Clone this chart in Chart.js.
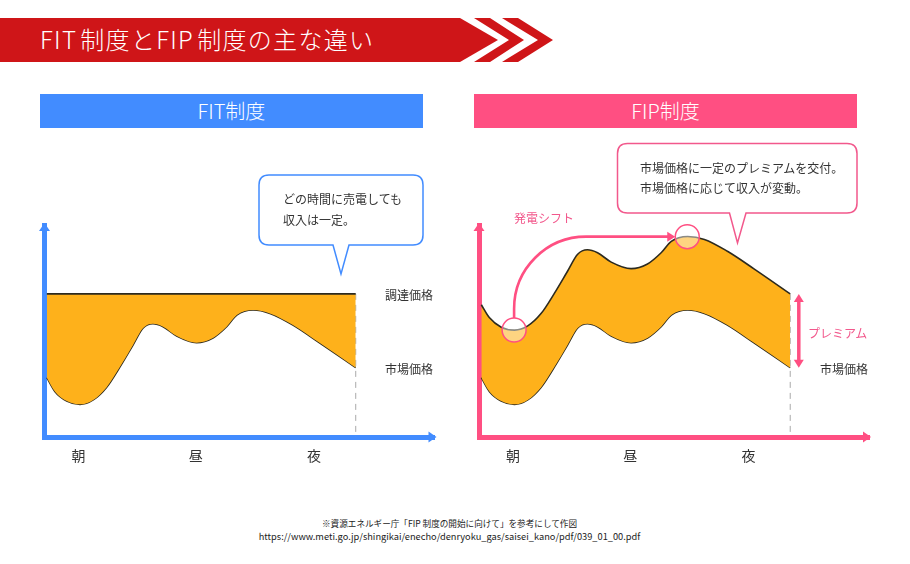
<!DOCTYPE html>
<html lang="ja">
<head>
<meta charset="utf-8">
<title>FIT制度とFIP制度の主な違い</title>
<script src="https://cdn.jsdelivr.net/npm/chart.js@4"></script>
<style>
  html, body { margin: 0; padding: 0; background: #fff; }
  body { position: relative; width: 910px; height: 564px; overflow: hidden; font-family: 'Noto Sans CJK JP', 'Noto Sans', sans-serif; color: #333; }
  canvas, svg, .txt, .band { position: absolute; }
  .txt { white-space: nowrap; line-height: 1; transform: translateY(-50%); }
  .band { top: 94px; height: 34px; width: 383px; color: #fff; font-size: 20px; line-height: 34px; text-align: center; font-weight: 300; }
  .note { font-size: 12px; }
  .pink { color: #f2588c; }
  .src { left: 0; width: 899px; text-align: center; color: #222; }
</style>
</head>
<body>
<svg width="910" height="140" style="left:0;top:0">
  <polygon fill="#cf1518" points="0,18 460,18 498,40 460,62 0,62"/>
  <polygon fill="#cf1518" points="474,18 490,18 524,40 490,62 474,62 509,40"/>
  <polygon fill="#cf1518" points="502,18 518,18 553,40 518,62 502,62 538,40"/>
</svg>
<div class="txt" style="left:40px;top:39px;font-size:24px;color:#fff;font-weight:300;letter-spacing:1.3px;word-spacing:-3.5px">FIT 制度とFIP 制度の主な違い</div>
<div class="band" style="left:40px;background:#428cff">FIT制度</div>
<div class="band" style="left:474px;background:#ff4f82">FIP制度</div>

<canvas id="chart-fit" width="440" height="290" style="left:0;top:200px"></canvas>
<canvas id="chart-fip" width="476" height="290" style="left:434px;top:200px"></canvas>

<svg width="910" height="300" style="left:0;top:130px;pointer-events:none">
  <path fill="#fff" stroke="#428cff" stroke-width="1.5" d="M269,45 H413 Q423,45 423,55 V105 Q423,115 413,115 H349 L341,144 L333,115 H269 Q259,115 259,105 V55 Q259,45 269,45 Z"/>
  <path fill="#fff" stroke="#f2588c" stroke-width="1.5" d="M627.5,13.5 H847 Q857,13.5 857,23.5 V73 Q857,83 847,83 H746 L737.5,113 L729.5,83 H627.5 Q617.5,83 617.5,73 V23.5 Q617.5,13.5 627.5,13.5 Z"/>
</svg>
<div class="txt note" style="left:283px;top:199px">どの時間に売電しても</div>
<div class="txt note" style="left:283px;top:220px">収入は一定。</div>
<div class="txt note" style="left:640px;top:168px">市場価格に一定のプレミアムを交付。</div>
<div class="txt note" style="left:640px;top:188px">市場価格に応じて収入が変動。</div>
<div class="txt note" style="left:385px;top:295px">調達価格</div>
<div class="txt note" style="left:385px;top:369px">市場価格</div>
<div class="txt note pink" style="left:514px;top:218px">発電シフト</div>
<div class="txt note pink" style="left:808px;top:333px">プレミアム</div>
<div class="txt note" style="left:820px;top:369px">市場価格</div>
<div class="txt src" style="top:523px;font-size:8.6px">※資源エネルギー庁「FIP 制度の開始に向けて」を参考にして作図</div>
<div class="txt src" style="top:537px;font-size:9.25px">https://www.meti.go.jp/shingikai/enecho/denryoku_gas/saisei_kano/pdf/039_01_00.pdf</div>

<script>
const TIME = [0.6, 2.7, 5.7, 9.1, 12.5, 15.9, 19.4, 22.7, 25.3, 27.8, 30.4, 33.9, 39, 43.2, 46.7, 49.3, 53.5, 57.8, 63.7, 70.6, 79.8];
const MARKET_PRICE = [28, 21.4, 17, 15.4, 17.5, 23.4, 33.2, 43.4, 51.4, 53.4, 52, 47.6, 44.5, 46.7, 52, 57.5, 59.9, 58.3, 52.8, 44.3, 32.7];
const FIT_PRICE = [67.5, 67.5, 67.5, 67.5, 67.5, 67.5, 67.5, 67.5, 67.5, 67.5, 67.5, 67.5, 67.5, 67.5, 67.5, 67.5, 67.5, 67.5, 67.5, 67.5, 67.5];
const FIP_PRICE = [62.4, 56.2, 51.8, 50.4, 52.4, 58.2, 68, 78.2, 86.2, 88.3, 86.9, 82.5, 79.4, 81.6, 86.9, 92.3, 94.6, 93.2, 87.6, 79.2, 67.5];
const TICK_VALUES = [8.7, 38.8, 69.1];
const TICK_LABELS = ['朝', '昼', '夜'];
const END_TIME = 79.8;
const SHIFT_FROM = { x: 9, y: 50.5 };
const SHIFT_TO = { x: 53.4, y: 94.5 };
const PREMIUM_TIME = 82;
const PREMIUM_TOP = 67.5;
const PREMIUM_BOTTOM = 32.7;

const BLUE = '#428cff';
const PINK = '#ff4f82';
const ORANGE = '#feb11b';
const INK = '#2c2a1f';

function toPoints(values) {
    return values.map((v, i) => ({ x: TIME[i], y: v }));
}

function curve(values, extra) {
    return Object.assign({ data: toPoints(values), borderColor: INK, borderWidth: 1.6, pointRadius: 0, cubicInterpolationMode: 'monotone', fill: false }, extra);
}

function dashed(top) {
    return { data: [{ x: END_TIME, y: top }, { x: END_TIME, y: 0 }], borderColor: '#a9a9a9', borderWidth: 1, borderDash: [6, 5], pointRadius: 0, fill: false };
}

function triangle(ctx, x, y, angle, len, half) {
    ctx.save();
    ctx.translate(x, y);
    ctx.rotate(angle);
    ctx.beginPath();
    ctx.moveTo(0, 0);
    ctx.lineTo(-len, -half);
    ctx.lineTo(-len, half);
    ctx.closePath();
    ctx.fill();
    ctx.restore();
}

// arrow heads at the axis ends
const axisArrows = {
    id: 'axisArrows',
    afterDraw(chart, args, opts) {
        const { ctx, chartArea: a } = chart;
        ctx.fillStyle = opts.color;
        triangle(ctx, a.left, a.top - 2, -Math.PI / 2, 8, 5.5);
        triangle(ctx, a.right + 2, a.bottom, 0, 8, 5.5);
    }
};

// shift arrow, lenses and premium arrow of the FIP panel
const fipMarks = {
    id: 'fipMarks',
    afterDatasetsDraw(chart) {
        const { ctx, scales: { x, y } } = chart;
        const from = { x: x.getPixelForValue(SHIFT_FROM.x), y: y.getPixelForValue(SHIFT_FROM.y) };
        const to = { x: x.getPixelForValue(SHIFT_TO.x), y: y.getPixelForValue(SHIFT_TO.y) };
        const lensR = 12;

        ctx.save();
        ctx.strokeStyle = PINK;
        ctx.fillStyle = PINK;
        ctx.lineWidth = 2.6;
        ctx.beginPath();
        ctx.moveTo(from.x, from.y - lensR);
        ctx.arcTo(from.x, to.y, to.x, to.y, 72);
        ctx.lineTo(to.x - lensR - 6, to.y);
        ctx.stroke();
        triangle(ctx, to.x - lensR, to.y, 0, 8, 5);

        [from, to].forEach(p => {
            ctx.beginPath();
            ctx.arc(p.x, p.y, lensR, 0, Math.PI * 2);
            ctx.fillStyle = 'rgba(255,255,255,0.45)';
            ctx.fill();
            ctx.lineWidth = 1.5;
            ctx.stroke();
        });

        const px = x.getPixelForValue(PREMIUM_TIME);
        const top = y.getPixelForValue(PREMIUM_TOP);
        const bottom = y.getPixelForValue(PREMIUM_BOTTOM);
        ctx.fillStyle = PINK;
        ctx.lineWidth = 3.5;
        ctx.beginPath();
        ctx.moveTo(px, top + 6);
        ctx.lineTo(px, bottom - 6);
        ctx.stroke();
        triangle(ctx, px, top, -Math.PI / 2, 8, 5);
        triangle(ctx, px, bottom, Math.PI / 2, 8, 5);
        ctx.restore();
    }
};

function createChart(id, datasets, color, padding, plugins) {
    return new Chart(document.getElementById(id), {
        type: 'line',
        data: { datasets },
        plugins,
        options: {
            responsive: false,
            animation: false,
            layout: { padding },
            plugins: { legend: { display: false }, tooltip: { enabled: false }, axisArrows: { color } },
            scales: {
                x: {
                    type: 'linear', min: 0, max: 100,
                    grid: { display: false },
                    border: { color, width: 5 },
                    afterBuildTicks: axis => { axis.ticks = TICK_VALUES.map(value => ({ value })); },
                    afterFit: scale => { scale.height = 53; },
                    ticks: {
                        autoSkip: false, maxRotation: 0, padding: 2, color: '#333',
                        font: { family: "'Noto Sans CJK JP'", size: 14 },
                        callback: value => TICK_LABELS[TICK_VALUES.indexOf(value)]
                    }
                },
                y: {
                    min: 0, max: 100,
                    grid: { display: false },
                    border: { color, width: 5 },
                    ticks: { display: false },
                    afterFit: scale => { scale.width = 0; }
                }
            }
        }
    });
}

createChart('chart-fit', [
    curve(FIT_PRICE, { fill: 1, backgroundColor: ORANGE }),
    curve(MARKET_PRICE),
    dashed(FIT_PRICE[0])
], BLUE, { left: 44.5, right: 5.5, top: 25, bottom: 0 }, [axisArrows]);

createChart('chart-fip', [
    curve(FIP_PRICE, { fill: 1, backgroundColor: ORANGE }),
    curve(MARKET_PRICE),
    dashed(FIP_PRICE[FIP_PRICE.length - 1])
], PINK, { left: 45, right: 41, top: 25, bottom: 0 }, [axisArrows, fipMarks]);
</script>
</body>
</html>
